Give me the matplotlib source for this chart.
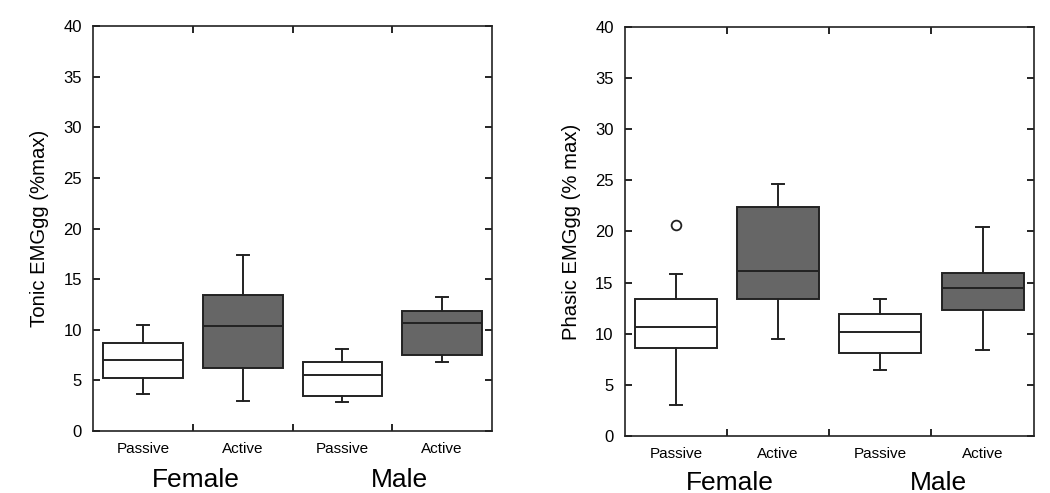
import matplotlib
matplotlib.use("Agg")
import matplotlib.pyplot as plt
import matplotlib.transforms as mtransforms

plt.rcParams['font.family'] = ['Liberation Sans', 'DejaVu Sans']

# categories
conditions = ['Passive', 'Active', 'Passive', 'Active']
groups = ['Female', 'Male']
fills = ['white', '#666666', 'white', '#666666']

# tonic EMGgg (%max): whisker low, Q1, median, Q3, whisker high
tonic_lo = [3.7, 3.0, 2.9, 6.8]
tonic_q1 = [5.2, 6.2, 3.5, 7.5]
tonic_med = [7.0, 10.4, 5.5, 10.7]
tonic_q3 = [8.65, 13.45, 6.8, 11.85]
tonic_hi = [10.45, 17.4, 8.1, 13.2]
tonic_fliers = [[], [], [], []]

# phasic EMGgg (% max)
phasic_lo = [3.0, 9.45, 6.5, 8.45]
phasic_q1 = [8.6, 13.35, 8.1, 12.35]
phasic_med = [10.65, 16.1, 10.2, 14.45]
phasic_q3 = [13.35, 22.4, 11.9, 15.95]
phasic_hi = [15.8, 24.6, 13.35, 20.4]
phasic_fliers = [[20.65], [], [], []]


def make_stats(lo, q1, med, q3, hi, fl):
    stats = []
    for i in range(len(lo)):
        stats.append({'whislo': lo[i], 'q1': q1[i], 'med': med[i], 'q3': q3[i],
                      'whishi': hi[i], 'fliers': fl[i]})
    return stats


def draw_panel(ax, stats, ylabel, glabel_y):
    lw = 1.4
    bp = ax.bxp(stats, positions=[1, 2, 3, 4], widths=0.8, patch_artist=True,
                showfliers=True, capwidths=0.12,
                boxprops=dict(linewidth=lw, edgecolor='#222222'),
                medianprops=dict(color='#222222', linewidth=lw),
                whiskerprops=dict(color='#222222', linewidth=lw),
                capprops=dict(color='#222222', linewidth=lw),
                flierprops=dict(marker='o', markerfacecolor='white',
                                markeredgecolor='#222222', markersize=7,
                                markeredgewidth=1.3))
    for patch, c in zip(bp['boxes'], fills):
        patch.set_facecolor(c)

    ax.set_xlim(0.5, 4.5)
    ax.set_ylim(0, 40)
    ax.set_yticks(range(0, 41, 5))
    ax.set_xticks([1, 2, 3, 4])
    ax.set_xticklabels(conditions)
    ax.set_xticks([1.5, 2.5, 3.5], minor=True)
    ax.tick_params(axis='x', which='major', length=0, labelsize=11, pad=8)
    ax.tick_params(axis='x', which='minor', direction='in', length=5,
                   width=1.2, top=True, bottom=True)
    ax.tick_params(axis='y', direction='in', length=5, width=1.2,
                   left=True, right=True, labelsize=12, pad=8)
    for s in ax.spines.values():
        s.set_linewidth(1.2)
        s.set_color('#222222')
    ax.set_ylabel(ylabel, fontsize=14.6, labelpad=10)

    trans = mtransforms.blended_transform_factory(ax.transData, ax.transAxes)
    ax.text(1.53, glabel_y, groups[0], transform=trans, ha='center',
            va='center', fontsize=19)
    ax.text(3.57, glabel_y, groups[1], transform=trans, ha='center',
            va='center', fontsize=19)


fig = plt.figure(figsize=(10.5, 4.93), dpi=100)
ax1 = fig.add_axes([0.0886, 0.1258, 0.380, 0.821])
ax2 = fig.add_axes([0.595, 0.1156, 0.3895, 0.830])

draw_panel(ax1, make_stats(tonic_lo, tonic_q1, tonic_med, tonic_q3, tonic_hi, tonic_fliers),
           'Tonic EMGgg (%max)', -0.121)
draw_panel(ax2, make_stats(phasic_lo, phasic_q1, phasic_med, phasic_q3, phasic_hi, phasic_fliers),
           'Phasic EMGgg (% max)', -0.115)

fig.savefig('out.png', dpi=100)
